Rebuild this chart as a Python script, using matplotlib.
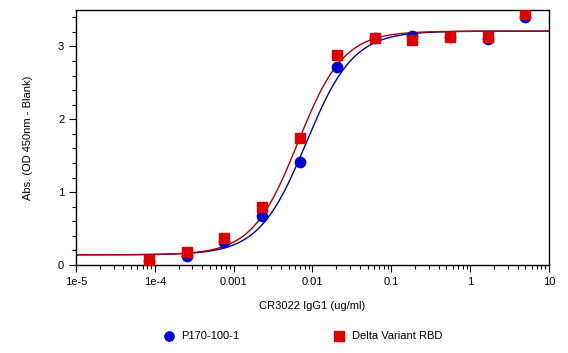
import numpy as np
import matplotlib.pyplot as plt
from matplotlib.ticker import LogLocator, MultipleLocator, FixedFormatter, FixedLocator

plt.rcParams['font.family'] = ['Liberation Sans', 'DejaVu Sans']

conc = [5, 1.667, 0.5556, 0.1852, 0.06173, 0.02058, 0.00686, 0.002286, 0.000762, 0.000254, 0.0000847]
p170 = [3.40, 3.10, 3.13, 3.15, 3.12, 2.72, 1.42, 0.67, 0.31, 0.13, 0.06]
delta = [3.44, 3.13, 3.13, 3.09, 3.11, 2.88, 1.74, 0.80, 0.37, 0.18, 0.07]

# 4PL fit parameters: bottom, top, EC50, hill
p170_fit = [0.14, 3.21, 0.0083, 1.45]
delta_fit = [0.14, 3.21, 0.0065, 1.5]

def four_pl(x, bottom, top, ec50, hill):
    return bottom + (top - bottom) / (1 + (ec50 / x) ** hill)

xs = np.logspace(-5, 1, 400)

fig = plt.figure(figsize=(5.68, 3.53), dpi=100)
ax = fig.add_axes([76 / 568, 1 - 265 / 353, 473 / 568, 255 / 353])

ax.plot(xs, four_pl(xs, *p170_fit), color='#000099', lw=1)
ax.plot(xs, four_pl(xs, *delta_fit), color='#b00000', lw=1)
ax.scatter(conc, p170, marker='o', s=55, color='#0000cc', zorder=3, label='P170-100-1')
ax.scatter(conc, delta, marker='s', s=55, color='#dd0000', zorder=4, label='Delta Variant RBD')

ax.set_xscale('log')
ax.set_xlim(1e-5, 10)
ax.set_ylim(0, 3.5)
ticks = [1e-5, 1e-4, 1e-3, 1e-2, 0.1, 1, 10]
ax.xaxis.set_major_locator(FixedLocator(ticks))
ax.xaxis.set_major_formatter(FixedFormatter(['1e-5', '1e-4', '0.001', '0.01', '0.1', '1', '10']))
ax.xaxis.set_minor_locator(LogLocator(base=10, subs=np.arange(2, 10)))
ax.yaxis.set_major_locator(MultipleLocator(1))
ax.yaxis.set_minor_locator(MultipleLocator(0.2))
ax.tick_params(which='major', length=5, labelsize=8, width=0.8)
ax.tick_params(which='minor', length=3, width=0.8)
for s in ax.spines.values():
    s.set_linewidth(1)

ax.set_xlabel('CR3022 IgG1 (ug/ml)', fontsize=8, labelpad=10)
ax.set_ylabel('Abs. (OD 450nm - Blank)', fontsize=8, labelpad=18)

fig.legend(loc='center', bbox_to_anchor=(300 / 568, 1 - 336 / 353), ncol=2,
           frameon=False, fontsize=8, columnspacing=8, handletextpad=0.1,
           markerscale=0.9)

fig.savefig('out.png', dpi=100)
